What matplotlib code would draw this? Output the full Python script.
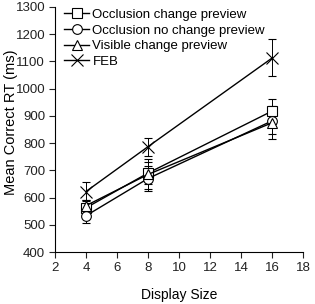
import matplotlib
matplotlib.use("Agg")
import matplotlib.pyplot as plt
from matplotlib.lines import Line2D

plt.rcParams["font.family"] = ["Liberation Sans", "DejaVu Sans"]

display_size = [4, 8, 16]
series = ["Occlusion change preview", "Occlusion no change preview",
          "Visible change preview", "FEB"]
markers = ["s", "o", "^", "x"]

occ_change = [562, 690, 918]
occ_change_err = [30, 40, 45]
occ_nochange = [533, 670, 882]
occ_nochange_err = [28, 45, 50]
vis_change = [570, 685, 875]
vis_change_err = [22, 55, 60]
feb = [622, 787, 1113]
feb_err = [35, 33, 68]

means = [occ_change, occ_nochange, vis_change, feb]
errs = [occ_change_err, occ_nochange_err, vis_change_err, feb_err]

fig = plt.figure(figsize=(3.15, 3.04), dpi=100)
ax = fig.add_axes([0.174, 0.171, 0.789, 0.806])

handles = []
for name, m, y, e in zip(series, markers, means, errs):
    ms = 8 if m == "x" else 7
    ax.errorbar(display_size, y, yerr=e, color="black", linewidth=1.0,
                marker=m, markersize=ms, markerfacecolor="white",
                markeredgecolor="black", markeredgewidth=0.8,
                elinewidth=0.7, capsize=3, capthick=0.7)
    handles.append(Line2D([], [], color="black", linewidth=1.0, marker=m,
                          markersize=ms, markerfacecolor="white",
                          markeredgecolor="black", markeredgewidth=0.8,
                          label=name))

ax.set_xlim(2, 18)
ax.set_ylim(400, 1300)
ax.set_xticks(range(2, 19, 2))
ax.set_yticks(range(400, 1301, 100))
ax.tick_params(labelsize=9.5, direction="out", length=4, width=0.8,
               colors="#222222", pad=3)
ax.spines["top"].set_visible(False)
ax.spines["right"].set_visible(False)
ax.set_xlabel("Display Size", fontsize=10, labelpad=10)
ax.set_ylabel("Mean Correct RT (ms)", fontsize=10.5)
ax.yaxis.set_label_coords(-0.15, 0.53)

ax.legend(handles=handles, loc="upper left", bbox_to_anchor=(0.0, 1.03),
          frameon=False, fontsize=9.5, handlelength=1.9, handletextpad=0.25,
          labelspacing=0.25, borderaxespad=0.3)

fig.savefig("out.png", dpi=100)
